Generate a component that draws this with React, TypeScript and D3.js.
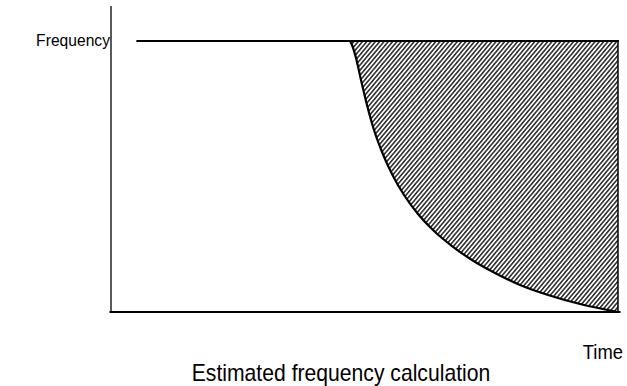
import React from "react";
import * as d3 from "d3";

// Time (0-100 along the axis) and estimated frequency (0-100)
const flatTime = [5, 47];
const flatFreq = [100, 100];
const curveTime = [47.05, 47.44, 48.23, 49.21, 50.39, 51.77, 53.35, 55.31, 57.68, 60.43, 63.58, 67.13, 71.06, 75.59, 80.51, 86.02, 92.32, 99.8];
const curveFreq = [100, 98.52, 93.73, 85.61, 76.38, 67.16, 59.04, 50.92, 43.17, 36.16, 29.89, 24.35, 19.19, 14.39, 9.96, 6.27, 2.95, 0];
const yLabel = "Frequency";
const xLabel = "Time";
const caption = "Estimated frequency calculation";

const W = 627;
const H = 386;

export default function App() {
  const x = d3.scaleLinear().domain([0, 100]).range([111, 619]);
  const y = d3.scaleLinear().domain([0, 100]).range([312, 41]);

  const curvePts: [number, number][] = curveTime.map((t, i) => [t, curveFreq[i]]);
  const line = d3
    .line<[number, number]>()
    .x((d) => x(d[0]))
    .y((d) => y(d[1]))
    .curve(d3.curveMonotoneX);

  const area = d3
    .area<[number, number]>()
    .x((d) => x(d[0]))
    .y0(() => y(100))
    .y1((d) => y(d[1]))
    .curve(d3.curveMonotoneX);

  const flatPts: [number, number][] = flatTime.map((t, i) => [t, flatFreq[i]]);
  const tEnd = curveTime[curveTime.length - 1];

  const font = "Arial, 'Liberation Sans', Helvetica, sans-serif";
  const sx = 0.92;

  return (
    <svg
      width={W}
      height={H}
      style={{ position: "absolute", left: 0, top: 0, background: "#fff" }}
    >
      <defs>
        <pattern
          id="hatch"
          patternUnits="userSpaceOnUse"
          width={3.3}
          height={10}
          patternTransform="rotate(40)"
        >
          <line x1={0.8} y1={0} x2={0.8} y2={10} stroke="#000" strokeWidth={1.3} />
        </pattern>
      </defs>

      <path d={area(curvePts) || ""} fill="url(#hatch)" />

      {/* axes */}
      <line x1={x(0)} y1={6} x2={x(0)} y2={y(0)} stroke="#000" strokeWidth={1.3} />
      <line x1={x(-0.3)} y1={y(0)} x2={x(100.3)} y2={y(0)} stroke="#000" strokeWidth={2} />

      {/* flat top line + top of hatched region */}
      <line x1={x(flatPts[0][0])} y1={y(100)} x2={x(100)} y2={y(100)} stroke="#000" strokeWidth={2} />
      {/* right edge */}
      <line x1={x(tEnd)} y1={y(100)} x2={x(tEnd)} y2={y(0)} stroke="#000" strokeWidth={1.5} />

      {/* curve */}
      <path d={line(curvePts) || ""} fill="none" stroke="#000" strokeWidth={2.2} />

      <g transform={`translate(110,46) scale(${sx},1)`}>
        <text x={0} y={0} textAnchor="end" fontFamily={font} fontSize={17} fill="#000">
          {yLabel}
        </text>
      </g>
      <g transform={`translate(623,359) scale(${sx},1)`}>
        <text x={0} y={0} textAnchor="end" fontFamily={font} fontSize={20} fill="#000">
          {xLabel}
        </text>
      </g>
      <g transform={`translate(341,381) scale(${sx},1)`}>
        <text x={0} y={0} textAnchor="middle" fontFamily={font} fontSize={23} fill="#000">
          {caption}
        </text>
      </g>
    </svg>
  );
}
